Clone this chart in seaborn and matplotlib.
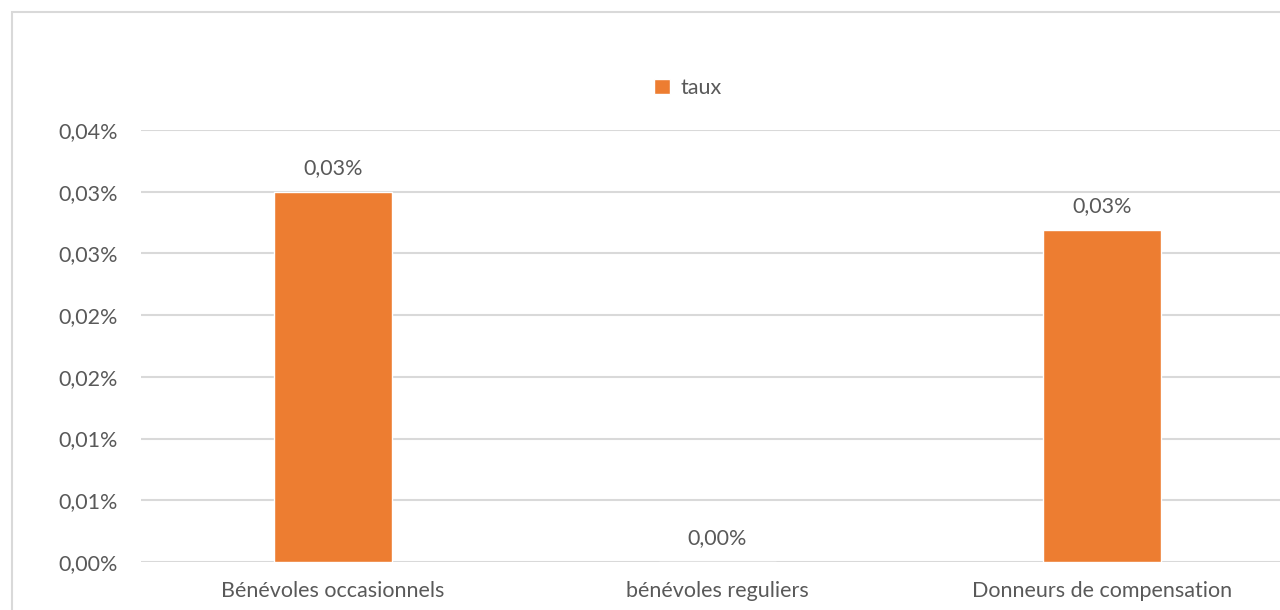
import matplotlib
matplotlib.use("Agg")
import matplotlib.pyplot as plt
import seaborn as sns
import pandas as pd
from decimal import Decimal, ROUND_HALF_UP
from matplotlib.patches import Rectangle
from matplotlib.ticker import FuncFormatter, MultipleLocator

categories = ["Bénévoles occasionnels", "bénévoles reguliers", "Donneurs de compensation"]
taux = [0.030, 0.000, 0.0269]  # in percent
series_name = "taux"

sns.set_theme(style="white")
plt.rcParams['font.family'] = ['Lato', 'DejaVu Sans']

TEXT = "#595959"
GRID = "#d9d9d9"
ORANGE = "#ed7d31"
FS = 15.5


def fmt(v, p=None):
    d = Decimal(str(round(v, 8))).quantize(Decimal("0.01"), rounding=ROUND_HALF_UP)
    return f"{d}%".replace(".", ",")


df = pd.DataFrame({"cat": categories, "val": taux})

fig = plt.figure(figsize=(12.8, 6.1), dpi=100)
ax = fig.add_axes([141/1280, 48/610, 1153/1280, 432/610])

sns.barplot(data=df, x="cat", y="val", color=ORANGE, width=0.307, ax=ax,
            saturation=1, label=series_name)

ax.set_xlim(-0.5, 2.5)
ax.set_ylim(0, 0.035)
ax.yaxis.set_major_locator(MultipleLocator(0.005))
ax.yaxis.set_major_formatter(FuncFormatter(fmt))
ax.grid(axis="y", color=GRID, linewidth=1.5)
ax.set_axisbelow(True)
for s in ax.spines.values():
    s.set_visible(False)
ax.set_xlabel("")
ax.set_ylabel("")
ax.tick_params(axis="both", length=0, labelsize=FS, labelcolor=TEXT)
ax.tick_params(axis="y", pad=16.5)
ax.tick_params(axis="x", pad=14)

for container in ax.containers:
    ax.bar_label(container, labels=[fmt(v) for v in taux], padding=10,
                 fontsize=FS, color=TEXT)

leg = ax.legend(loc="center", bbox_to_anchor=(688/1280, 1 - 88/610),
                bbox_transform=fig.transFigure, frameon=False, fontsize=FS,
                handlelength=0.7, handleheight=0.7, handletextpad=0.5)
for t in leg.get_texts():
    t.set_color(TEXT)

fig.patches.append(Rectangle((12/1280, -0.1), 1.2, 1.1 - 12/610, transform=fig.transFigure,
                             fill=False, edgecolor=GRID, linewidth=1.5, figure=fig))

fig.savefig("out.png", dpi=100)
